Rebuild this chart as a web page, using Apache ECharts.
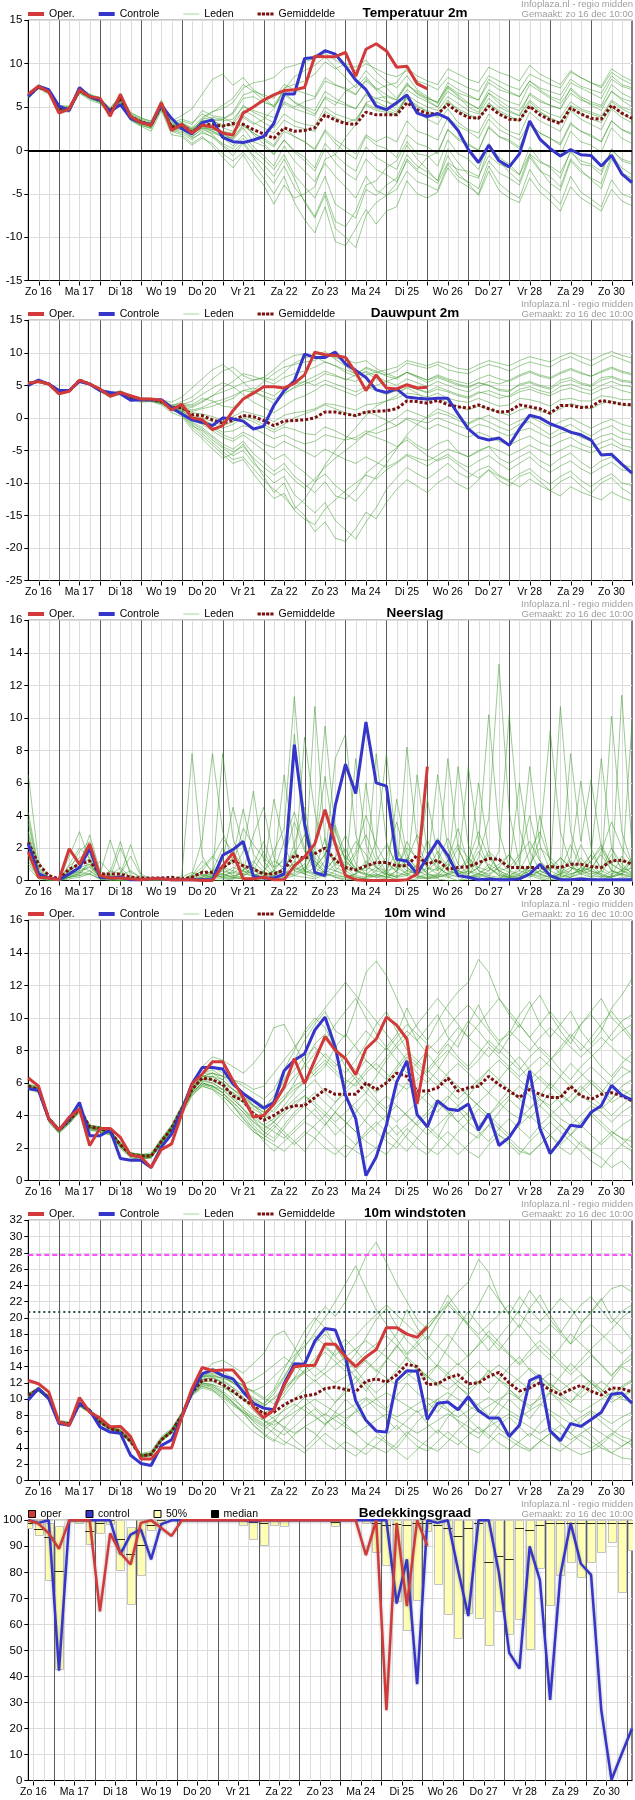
<!DOCTYPE html>
<html><head><meta charset="utf-8">
<script src="https://cdn.jsdelivr.net/npm/echarts@6/dist/echarts.min.js"></script>
<style>html,body{margin:0;padding:0;background:#fff}#c{width:635px;height:1800px}</style>
</head><body><div id="c"></div>
<script>
// ---------- axis / category data ----------
const dayLabels = ['Zo 16','Ma 17','Di 18','Wo 19','Do 20','Vr 21','Za 22','Zo 23','Ma 24','Di 25','Wo 26','Do 27','Vr 28','Za 29','Zo 30'];
const hours = [6,12,18,24,30,36,42,48,54,60,66,72,78,84,90,96,102,108,114,120,126,132,138,144,150,156,162,168,174,180,186,192,198,204,210,216,222,228,234,240,246,252,258,264,270,276,282,288,294,300,306,312,318,324,330,336,342,348,354,360];
const cloudHours = [9,15,21,27,33,39,45,51,57,63,69,75,81,87,93,99,105,111,117,123,129,135,141,147,153,159,165,171,177,183,189,195,201,207,213,219,225,231,237,243,249,255,261,267,273,279,285,291,297,303,309,315,321,327,333,339,345,351,357,363];

// ---------- Temperatuur 2m ----------
const tempOper = [6.5,7.4,6.75, 4.3,4.8,7.0,6.2, 6.0,3.95,6.45,3.9, 3.2,2.9,5.5,2.3, 3.0,2.0,2.9,2.7, 2.0,1.75,4.3,5.0, 5.8,6.4,6.9,7.0, 7.25,10.85,10.8,10.8, 11.3,8.55,11.66,12.3, 11.47,9.6,9.7,7.7, 7.1];
const tempCtrl = [6.2,7.4,7.0, 5.1,4.6,7.25,6.2, 5.8,4.45,5.3,3.7, 3.2,3.0,5.2,3.7, 2.5,1.9,3.2,3.5, 1.5,1.0,0.9,1.2, 1.6,3.1,6.5,6.5, 10.6,10.7,11.5,11.1, 9.7,8.1,7.0,5.1, 4.7,5.5,6.4,4.3, 3.9,4.25,3.7,2.3, 0.1,-1.4,0.6,-1.2, -1.9,-0.4,3.4,1.3, 0.2,-0.65,0.1,-0.5, -0.6,-1.8,-0.55,-2.7, -3.7];
const tempMean = [6.3,7.3,6.8, 4.8,4.8,6.9,6.2, 5.8,4.5,6.0,3.9, 3.3,2.9,5.2,2.7, 2.9,2.1,2.9,3.0, 2.8,3.1,3.0,2.4, 1.9,1.4,2.6,2.2, 2.3,2.6,4.1,3.5, 3.1,3.0,4.4,4.1, 4.1,4.1,5.5,4.7, 4.25,4.2,5.3,4.4, 3.8,3.7,5.1,4.2, 3.6,3.5,5.1,4.1, 3.5,3.1,4.9,4.2, 3.7,3.6,5.2,4.3, 3.7];
const tempLeden = [
 [6.4,7.5,6.9, 4.6,4.9,7.1,6.3, 6.1,4.2,6.6,4.0, 3.4,3.1,5.6,2.6, 3.2,2.6,3.8,4.5, 4.8,5.5,7.2,7.8, 8.0,8.4,9.5,9.8, 10.2,10.6,11.2,10.4, 9.8,9.2,10.0,9.4, 8.8,8.5,9.2,8.0, 7.6,7.0,8.4,7.8, 7.2,6.8,8.6,8.0, 7.4,7.0,8.8,8.2, 7.6,7.2,9.0,8.4, 7.8,7.4,9.4,8.6, 8.0],
 [6.0,7.1,6.5, 4.4,4.5,6.6,5.8, 5.4,4.0,5.6,3.4, 2.8,2.2,4.6,1.8, 1.6,0.6,1.4,0.8, -0.4,-1.2,-0.2,-1.6, -3.2,-5.0,-3.0,-6.0, -8.0,-9.5,-6.5,-10.5, -11.0,-9.0,-6.8,-8.5, -7.0,-6.5,-3.5,-5.0, -5.5,-4.8,-2.0,-3.5, -4.2,-5.0,-1.8,-3.8, -4.8,-5.5,-2.2,-4.0, -5.0,-6.2,-3.0,-4.8, -5.6,-6.5,-3.4,-5.0, -5.5],
 [6.2,7.2,6.6, 4.9,5.0,6.8,6.0, 5.6,4.3,5.8,3.6, 3.0,2.6,5.0,2.4, 2.2,1.4,2.0,1.6, 0.8,0.2,1.4,0.0, -1.0,-2.2,-0.5,-2.8, -4.2,-5.5,-3.0,-6.2, -7.0,-7.8,-4.5,-5.2, -4.0,-3.2,-0.5,-1.8, -2.5,-3.5,0.2,-1.4, -2.8,-3.2,0.4,-1.2, -2.5,-3.6,-0.5,-2.2, -3.8,-4.6,-1.2,-2.5, -3.2,-3.8,-0.6,-2.0, -2.8],
 [6.3,7.3,6.8, 5.0,4.7,6.9,6.1, 5.7,4.6,6.1,4.1, 3.5,3.0,5.0,2.9, 3.0,2.5,3.4,3.3, 3.0,2.8,4.0,3.2, 2.6,2.0,3.5,2.8, 2.5,2.2,4.5,3.8, 3.2,3.6,5.2,4.6, 4.4,4.0,6.2,5.0, 4.6,4.0,5.8,4.6, 4.0,3.6,5.5,4.4, 3.8,3.4,5.6,4.5, 3.6,3.2,5.2,4.6, 4.2,3.8,5.6,4.8, 4.2],
 [6.5,7.6,7.0, 5.2,5.1,7.3,6.4, 5.9,4.9,6.3,4.4, 3.7,3.4,5.8,3.4, 4.0,4.8,6.5,8.2, 8.8,7.5,8.4,7.0, 6.2,5.0,6.8,5.5, 4.8,4.2,6.0,5.2, 6.8,7.5,9.2,8.0, 7.2,6.0,7.8,6.5, 5.8,5.0,7.2,6.4, 5.5,4.8,7.0,6.2, 5.6,5.2,7.6,6.8, 6.0,5.4,7.0,6.0, 5.2,4.6,6.8,5.8, 5.0],
 [6.1,7.2,6.7, 4.6,4.4,6.7,6.2, 5.8,4.1,5.9,3.8, 3.1,2.7,4.8,2.2, 1.8,0.8,1.6,0.5, -0.8,-2.0,-0.5,-2.5, -4.0,-6.2,-4.0,-5.5, -5.0,-4.2,-1.0,-0.5, 1.5,3.0,5.5,6.0, 6.2,5.8,7.5,6.8, 6.0,5.5,7.8,7.0, 6.4,5.8,8.2,7.4, 6.8,6.2,8.0,7.0, 6.2,5.8,7.8,7.2, 6.6,6.0,8.2,7.4, 7.0],
 [6.3,7.4,6.8, 4.7,4.8,6.8,6.3, 5.7,4.4,6.0,3.8, 3.2,2.8,5.4,2.6, 2.6,1.8,2.8,2.4, 2.0,1.2,2.6,1.0, 0.5,-0.5,1.2,0.0, -0.8,-2.0,0.8,-0.5, -1.6,-2.4,0.4,-0.8, -1.5,-2.2,0.6,-1.0, -2.2,-3.5,-0.6,-2.6, -3.8,-5.2,-2.4,-4.6, -5.5,-6.0,-3.2,-4.8, -5.8,-7.0,-4.2,-5.5, -6.2,-7.0,-4.5,-5.8, -6.4],
 [6.4,7.3,6.9, 4.9,4.9,7.0,6.3, 5.9,4.5,6.2,4.0, 3.4,3.0,5.3,2.8, 2.8,2.2,3.6,3.8, 3.6,4.2,6.0,6.2, 5.5,5.2,7.0,8.5, 9.2,9.8,10.8,9.6, 8.4,7.2,8.5,7.0, 5.8,4.6,6.2,4.4, 3.6,3.0,4.8,3.2, 2.4,2.0,4.2,3.0, 2.2,1.8,4.4,3.4, 2.8,2.2,4.6,3.6, 3.0,2.4,4.8,3.8, 3.2],
 [6.2,7.3,6.7, 4.8,4.6,6.9,6.0, 5.6,4.4,5.9,4.0, 3.3,3.1,5.1,3.0, 3.2,2.4,2.8,2.2, 1.5,0.5,1.8,0.4, -0.6,-1.8,0.5,-1.2, -2.4,-3.6,-1.5,-3.0, -4.2,-5.5,-3.0,-4.6, -5.2,-3.8,-1.0,-2.2, -0.8,-0.2,2.4,1.2, 0.6,0.0,2.8,1.6, 1.0,0.2,3.0,1.4, 0.4,-0.6,2.2,1.0, 0.6,-0.2,2.6,1.4, 0.8],
 [6.3,7.2,6.8, 4.9,4.8,6.8,6.1, 5.8,4.7,6.0,4.2, 3.6,3.2,5.2,3.0, 3.4,3.0,4.6,4.0, 3.8,3.2,5.2,4.4, 3.8,3.2,5.6,5.0, 5.6,6.0,8.0,7.5, 7.2,6.5,8.0,7.0, 7.5,7.8,9.5,8.6, 8.0,7.6,9.4,8.8, 8.2,7.8,9.6,9.0, 8.6,8.0,9.8,8.8, 8.2,7.6,9.2,8.4, 7.8,7.2,9.0,8.2, 7.6],
 [6.1,7.3,6.6, 4.5,4.7,6.8,6.0, 5.5,4.3,5.8,3.6, 2.9,2.5,4.9,2.3, 2.0,1.2,2.2,1.5, 0.5,-0.6,0.8,-0.8, -2.4,-3.8,-1.8,-4.2, -5.8,-7.6,-4.8,-8.2, -8.8,-7.0,-4.0,-3.5, -2.0,-1.2,1.0,-0.4, -0.6,-1.8,1.2,-0.4, -1.0,-2.2,0.8,-0.8, -1.6,-2.8,0.4,-1.2, -2.0,-3.2,0.0,-1.6, -1.8,-2.8,0.2,-1.2, -1.6],
 [6.4,7.4,6.7, 4.6,4.8,6.7,6.4, 6.0,4.6,6.2,3.8, 3.3,2.8,4.9,2.5, 2.5,1.6,2.4,2.0, 1.6,1.4,2.8,2.0, 1.2,0.4,2.2,1.6, 1.0,0.2,2.4,1.2, 0.4,-0.4,1.8,1.0, 1.6,1.0,3.4,2.2, 1.8,1.2,3.8,2.8, 2.2,1.4,3.6,2.4, 1.8,1.2,3.2,2.0, 1.4,0.6,3.0,2.2, 1.6,1.0,3.4,2.4, 1.8],
 [6.2,7.4,7.0, 5.1,5.0,7.2,6.5, 6.1,4.8,6.4,4.3, 3.8,3.3,5.6,3.2, 3.6,3.2,4.2,3.6, 2.6,2.2,3.8,3.0, 3.6,4.8,7.2,7.6, 8.0,8.8,10.2,9.4, 10.0,9.6,10.4,9.0, 8.0,7.2,8.6,7.0, 6.2,5.4,7.4,6.2, 5.0,4.4,6.6,5.4, 4.6,4.0,6.6,5.8, 5.2,4.8,7.2,6.2, 5.6,5.2,7.6,6.6, 6.0],
 [6.3,7.2,6.7, 4.7,4.6,6.6,6.0, 5.6,4.2,5.7,3.5, 2.9,2.6,4.8,2.5, 2.4,1.5,2.6,1.8, 0.6,-0.2,1.0,-0.6, -1.6,-3.0,-1.0,-3.2, -6.0,-7.8,-5.2,-9.0, -10.0,-11.2,-7.5,-6.0, -5.2,-4.5,-2.4,-3.6, -4.0,-4.6,-1.6,-3.0, -3.6,-4.4,-1.2,-2.6, -3.2,-4.0,-0.8,-2.4, -3.0,-4.2,-1.0,-2.2, -3.4,-4.4,-1.0,-2.6, -3.2],
 [6.3,7.4,6.9, 4.9,4.9,7.0,6.2, 5.8,4.6,6.1,4.0, 3.4,3.0,5.3,2.8, 3.1,2.4,3.4,3.6, 3.4,3.6,5.0,4.6, 4.2,3.8,5.4,4.8, 4.4,4.0,6.2,5.6, 5.2,4.8,6.6,6.0, 5.6,5.2,7.0,6.2, 5.6,5.0,6.8,6.0, 5.4,4.8,6.6,5.8, 5.0,4.6,6.4,5.6, 5.2,4.8,6.6,5.8, 5.4,5.0,6.8,6.0, 5.6],
 [6.2,7.3,6.7, 4.8,4.7,6.8,6.1, 5.7,4.4,5.9,3.8, 3.2,2.8,5.0,2.5, 2.6,1.9,2.6,2.2, 1.8,1.4,3.0,2.0, 1.4,0.6,2.6,1.6, 1.0,0.0,2.2,0.8, -0.2,-1.0,1.6,0.6, 0.2,-0.8,1.8,0.8, 0.4,-0.4,2.4,1.4, 0.8,0.0,2.6,1.6, 1.2,0.4,3.0,2.0, 1.4,0.8,3.2,2.2, 1.8,1.0,3.4,2.4, 2.0],
 [6.4,7.4,6.8, 4.8,4.9,7.0,6.3, 5.9,4.6,6.0,4.0, 3.4,3.0,5.4,2.9, 3.0,2.3,3.2,3.4, 3.6,4.4,6.4,6.8, 6.4,6.0,7.6,7.0, 6.6,6.2,8.4,7.6, 7.0,6.4,8.2,7.2, 6.4,5.8,7.6,6.6, 6.0,5.6,7.4,6.6, 6.2,5.8,7.8,7.0, 6.6,6.2,8.0,7.2, 6.8,6.4,8.2,7.4, 7.0,6.6,8.6,7.6, 7.2],
 [6.3,7.3,6.8, 4.7,4.8,6.9,6.2, 5.8,4.5,6.0,3.9, 3.3,2.9,5.1,2.6, 2.8,2.0,2.6,2.4, 2.2,2.0,3.2,1.8, 0.8,-0.4,1.2,-0.2, -1.2,-2.4,0.2,-1.4, -2.6,-3.4,-1.0,-2.2, -2.8,-3.6,-1.2,-2.4, -3.0,-3.8,-1.4,-2.2, -2.4,-3.0,-0.6,-1.6, -2.0,-2.8,-0.4,-1.4, -1.8,-2.6,-0.2,-1.2, -1.6,-2.4,0.0,-1.0, -1.4],
 [6.2,7.4,6.8, 4.8,4.8,6.9,6.2, 5.8,4.5,6.0,3.9, 3.3,2.9,5.2,2.7, 2.9,2.2,3.0,3.0, 2.8,3.0,4.6,4.0, 3.2,2.6,4.2,3.4, 3.0,2.8,5.0,4.2, 3.8,3.4,5.4,4.8, 4.6,4.2,6.4,5.6, 5.0,4.6,6.2,5.4, 4.6,4.2,6.0,5.0, 4.4,4.0,5.8,4.8, 4.2,3.8,5.6,4.8, 4.4,4.0,5.8,5.0, 4.6],
 [6.4,7.3,6.8, 4.9,4.8,6.9,6.2, 5.8,4.5,6.0,3.9, 3.3,2.9,5.2,2.7, 2.8,2.2,3.6,4.4, 5.2,6.0,7.6,6.8, 5.8,5.0,6.4,5.6, 5.0,4.6,6.8,6.0, 5.4,4.8,6.4,5.6, 5.0,4.4,6.0,5.2, 4.4,3.8,5.6,4.8, 4.2,3.6,5.4,4.6, 4.0,3.4,5.2,4.4, 3.8,3.2,5.0,4.2, 3.6,3.2,5.0,4.2, 3.6]
];

// ---------- Dauwpunt 2m ----------
const dewOper = [5.3,5.6,5.2, 3.7,4.1,5.8,5.2, 4.45,3.3,3.9,3.4, 2.9,2.9,2.7,1.2, 2.1,0.0,-0.3,-1.8, -1.2,1.1,2.9,3.8, 4.8,4.8,4.6,5.3, 6.6,10.1,9.7,9.6, 9.3,7.0,4.2,6.6, 4.6,4.45,5.1,4.6, 4.7];
const dewCtrl = [5.0,5.8,5.2, 4.2,4.2,5.6,5.2, 4.2,3.9,3.7,2.7, 2.8,2.8,2.8,1.6, 0.6,-0.3,-0.7,-1.2, 0.0,-0.15,-0.5,-1.7, -1.3,1.9,4.2,5.7, 9.8,9.3,9.3,10.1, 8.3,7.3,6.2,4.3, 3.9,4.45,3.2,3.0, 2.9,3.0,3.0,0.6, -1.7,-3.0,-3.4,-3.1, -4.2,-1.7,0.4,0.0, -0.9,-1.5,-2.2,-2.6, -3.4,-5.7,-5.6,-7.1, -8.5];
const dewMean = [5.3,5.6,5.2, 4.0,4.1,5.8,5.2, 4.3,3.5,3.9,3.1, 2.8,2.8,2.5,1.6, 1.6,0.5,0.35,-0.3, -0.8,-0.4,0.35,0.2, -0.4,-1.2,-0.5,-0.4, -0.3,0.0,0.9,0.9, 0.6,0.35,0.9,1.0, 1.1,1.4,2.6,2.5, 2.25,2.7,2.0,1.7, 1.5,2.0,1.4,0.9, 1.0,2.0,1.7,1.4, 0.7,1.9,1.9,1.6, 1.7,2.7,2.4,2.1, 2.0];
const dewLeden = [
 [5.2,5.7,5.3, 4.1,4.0,5.9,5.3, 4.5,3.6,4.0,3.2, 2.9,2.7,2.6,1.8, 2.5,3.2,4.5,6.0, 7.2,7.8,6.5,5.8, 6.2,7.4,8.8,9.6, 9.8,9.4,8.6,8.0, 7.4,6.8,7.6,7.0, 6.6,7.2,8.4,8.0, 7.6,8.2,7.4,7.0, 6.8,7.6,8.2,7.8, 7.2,8.0,8.6,8.2, 7.8,8.8,9.4,8.6, 8.0,8.8,9.6,9.0, 8.4],
 [5.3,5.5,5.1, 3.8,4.0,5.6,5.0, 4.0,3.2,3.6,2.8, 2.4,2.5,2.0,0.8, 0.2,-1.8,-3.2,-4.8, -6.2,-5.5,-4.0,-6.5, -9.0,-11.5,-10.0,-13.5, -15.0,-17.5,-16.0,-18.5, -19.0,-17.0,-14.5,-15.5, -13.0,-11.0,-9.5,-10.5, -11.5,-10.0,-9.0,-10.2, -11.0,-9.5,-8.0,-9.6, -10.5,-9.0,-8.4,-9.8, -11.2,-9.8,-9.0,-10.4, -11.6,-10.0,-9.2,-10.8, -11.8],
 [5.4,5.6,5.2, 4.1,4.2,5.8,5.1, 4.2,3.4,3.8,3.0, 2.6,2.6,2.3,1.2, 0.8,-0.6,-1.5,-2.8, -4.0,-4.8,-3.6,-5.5, -6.8,-8.2,-7.0,-9.0, -10.2,-11.5,-9.8,-12.0, -12.5,-11.0,-8.5,-7.2, -5.8,-4.6,-3.0,-4.2, -5.0,-4.0,-3.4,-5.2, -6.0,-5.0,-4.4,-6.2, -7.0,-6.0,-5.2,-6.6, -7.4,-6.2,-5.4,-6.8, -7.8,-6.6,-6.0,-7.2, -7.6],
 [5.3,5.6,5.3, 4.0,4.1,5.7,5.3, 4.3,3.5,4.0,3.2, 2.9,2.9,2.6,1.7, 1.5,0.8,0.6,0.2, -0.4,0.2,1.0,0.6, 0.2,-0.6,0.4,0.8, 1.0,1.4,2.2,2.0, 1.6,1.2,2.0,2.2, 2.6,3.0,3.8,3.6, 3.2,3.8,3.0,2.6, 2.4,3.0,2.4,1.8, 2.0,3.0,2.8,2.4, 1.8,2.8,3.0,2.6, 2.6,3.4,3.2,2.8, 2.8],
 [5.2,5.6,5.2, 4.2,4.3,5.9,5.3, 4.5,3.7,4.2,3.4, 3.1,3.0,2.8,2.4, 3.2,4.6,6.0,7.4, 8.2,7.0,5.5,4.0, 3.2,2.2,3.6,4.8, 5.6,6.4,7.2,6.6, 5.8,6.6,7.8,7.2, 6.4,6.0,7.0,6.2, 5.4,6.2,5.6,5.0, 4.6,5.4,5.0,4.2, 4.0,5.2,5.6,5.0, 4.6,5.8,6.2,5.4, 5.0,6.2,6.4,5.8, 5.6],
 [5.3,5.5,5.2, 3.9,4.0,5.7,5.2, 4.4,3.4,3.8,3.0, 2.7,2.6,2.2,1.2, 0.6,-1.0,-2.4,-3.8, -5.2,-6.4,-6.0,-7.8, -9.6,-11.0,-12.2,-14.0, -12.5,-10.0,-7.2,-5.0, -3.2,-1.5,0.4,1.8, 2.6,3.4,4.8,4.4, 4.0,4.8,4.2,3.6, 3.2,4.0,3.6,3.0, 3.4,4.4,4.8,4.2, 3.8,4.8,5.2,4.6, 4.2,5.0,5.6,5.0, 4.8],
 [5.3,5.6,5.2, 4.0,4.1,5.8,5.2, 4.3,3.5,3.9,3.1, 2.8,2.8,2.5,1.6, 1.4,0.2,-0.2,-1.0, -1.6,-1.0,0.0,-0.6, -1.4,-2.2,-1.4,-1.8, -2.4,-2.6,-1.4,-2.0, -2.8,-3.4,-2.4,-3.0, -3.6,-4.4,-3.4,-4.6, -5.8,-6.6,-6.0,-7.2, -8.4,-9.2,-8.0,-9.0, -9.8,-10.6,-9.4,-10.4, -11.2,-12.0,-10.6,-11.4, -12.0,-12.6,-11.4,-12.2, -12.8],
 [5.4,5.7,5.3, 4.1,4.2,5.9,5.3, 4.4,3.6,4.0,3.2, 2.9,2.9,2.6,1.9, 2.0,1.8,2.6,3.4, 4.0,4.6,5.4,5.8, 6.2,5.8,7.0,8.4, 9.2,9.6,10.2,9.0, 8.0,6.6,7.0,6.0, 4.8,4.0,4.6,3.8, 2.6,3.0,2.4,1.8, 1.2,1.8,1.4,0.8, 0.4,1.2,1.6,1.0, 0.6,1.4,2.2,1.8, 1.4,2.2,2.6,2.0, 1.8],
 [5.2,5.5,5.1, 4.0,4.0,5.7,5.1, 4.2,3.5,3.8,3.1, 2.8,2.8,2.4,1.4, 1.0,-0.4,-1.0,-2.0, -3.0,-3.6,-2.6,-3.8, -5.0,-6.4,-5.6,-7.2, -8.4,-9.8,-8.6,-10.4, -11.6,-12.8,-11.0,-9.0, -7.0,-4.8,-2.6,-1.0, 0.2,1.4,0.8,0.0, -0.8,0.0,-0.6,-1.4, -2.0,-1.0,-0.6,-1.6, -2.6,-1.6,-1.0,-2.0, -2.8,-1.8,-1.2,-2.2, -2.6],
 [5.3,5.6,5.2, 4.1,4.1,5.8,5.2, 4.4,3.6,4.0,3.2, 2.9,2.8,2.6,1.7, 1.8,1.2,1.6,2.4, 2.8,3.4,4.2,4.0, 3.4,2.8,3.8,4.6, 5.2,5.8,6.8,6.4, 6.0,5.6,6.6,7.0, 7.4,7.8,8.8,8.4, 8.0,8.6,8.2,7.6, 7.4,8.2,8.8,8.4, 8.0,8.8,9.4,9.0, 8.6,9.4,10.0,9.4, 8.8,9.6,10.2,9.6, 9.2],
 [5.2,5.5,5.1, 3.9,4.0,5.7,5.1, 4.1,3.3,3.7,2.9, 2.6,2.6,2.2,1.3, 0.4,-1.4,-2.8,-4.2, -5.6,-7.0,-6.4,-8.6, -10.6,-12.4,-11.6,-14.2, -15.6,-16.4,-14.0,-12.6, -11.2,-10.0,-8.8,-9.4, -8.0,-7.0,-5.8,-6.6, -7.4,-6.4,-5.6,-6.8, -7.6,-6.6,-5.8,-7.0, -8.0,-7.0,-6.0,-7.4, -8.4,-7.4,-6.6,-7.8, -8.6,-7.6,-6.8,-8.0, -8.2],
 [5.3,5.6,5.2, 4.0,4.1,5.8,5.2, 4.3,3.5,3.9,3.1, 2.8,2.7,2.4,1.5, 1.2,0.0,-0.6,-1.4, -2.2,-2.0,-1.2,-1.6, -2.4,-3.2,-2.6,-3.4, -4.0,-3.6,-2.6,-3.0, -3.4,-3.0,-2.0,-2.4, -1.8,-1.2,0.0,-0.4, -0.8,0.0,-0.6,-1.2, -1.8,-1.0,-1.4,-2.2, -2.8,-2.0,-1.6,-2.4, -3.2,-2.4,-2.0,-3.0, -3.6,-2.8,-2.4,-3.2, -3.4],
 [5.4,5.6,5.3, 4.2,4.3,5.9,5.4, 4.5,3.7,4.1,3.3, 3.0,3.0,2.8,2.0, 2.2,2.0,3.0,2.6, 1.8,1.6,3.0,4.2, 5.6,6.8,7.8,8.2, 8.6,8.8,9.8,9.2, 9.0,8.4,8.8,7.6, 6.8,6.2,7.0,6.4, 5.8,6.4,5.8,5.2, 4.8,5.4,5.0,4.4, 4.2,5.0,5.4,4.8, 4.4,5.4,5.8,5.2, 4.8,5.8,6.2,5.6, 5.4],
 [5.3,5.5,5.1, 4.0,4.0,5.7,5.1, 4.2,3.4,3.7,3.0, 2.7,2.7,2.3,1.3, 0.6,-1.2,-2.0,-3.4, -4.6,-5.8,-5.0,-7.0, -8.4,-10.0,-9.0,-11.8, -13.2,-14.6,-13.0,-15.8, -17.2,-18.6,-16.0,-13.8, -11.0,-9.2,-7.6,-8.6, -9.4,-8.2,-7.0,-8.4, -9.2,-8.0,-7.4,-8.8, -9.6,-8.6,-7.8,-9.2, -10.2,-9.0,-8.2,-9.6, -10.6,-9.4,-8.6,-10.0, -10.4],
 [5.3,5.6,5.2, 4.0,4.1,5.8,5.2, 4.3,3.5,3.9,3.1, 2.8,2.8,2.5,1.6, 1.6,1.0,1.4,1.8, 2.4,3.0,4.2,4.6, 4.0,3.4,4.6,5.2, 5.6,5.0,5.8,5.2, 4.6,4.0,4.8,4.2, 3.6,4.2,5.0,4.4, 3.8,4.4,4.0,3.4, 3.0,3.8,4.2,3.6, 3.2,4.0,4.4,3.8, 3.4,4.2,4.6,4.0, 3.6,4.4,4.8,4.2, 3.8],
 [5.3,5.6,5.2, 4.0,4.1,5.8,5.2, 4.3,3.5,3.9,3.1, 2.8,2.8,2.5,1.6, 1.2,-0.2,-0.8,-1.6, -2.6,-3.2,-2.2,-3.0, -4.0,-4.6,-3.6,-4.4, -5.2,-6.0,-4.8,-5.6, -6.4,-7.0,-6.0,-6.8, -7.6,-6.8,-5.6,-6.2, -6.6,-5.8,-4.8,-5.4, -6.0,-5.2,-4.4,-5.0, -5.8,-5.0,-4.2,-5.0, -5.8,-5.0,-4.2,-4.8, -5.4,-4.6,-4.0,-4.8, -5.2],
 [5.3,5.6,5.2, 4.0,4.1,5.8,5.2, 4.3,3.5,3.9,3.1, 2.8,2.8,2.5,1.6, 1.8,1.6,2.4,3.4, 4.6,5.6,6.8,6.4, 5.8,5.2,6.2,6.8, 7.2,7.8,8.6,8.0, 7.0,6.4,7.2,6.4, 5.6,5.0,6.0,5.4, 4.8,5.6,5.0,4.4, 4.0,4.8,5.6,5.2, 5.8,6.6,7.2,6.6, 6.2,7.0,7.6,7.0, 6.4,7.2,7.8,7.2, 6.8],
 [5.3,5.6,5.2, 4.0,4.1,5.8,5.2, 4.3,3.5,3.9,3.1, 2.8,2.8,2.5,1.6, 1.4,0.4,0.0,-0.6, -1.2,-0.6,0.4,-0.2, -1.0,-1.8,-1.0,0.0, 0.6,1.2,2.0,1.4, 0.8,0.2,1.0,0.4, -0.4,-1.2,-0.2,-1.0, -1.8,-1.0,-1.6,-2.4, -3.0,-2.2,-2.8,-3.6, -4.2,-3.4,-2.8,-3.8, -4.4,-3.6,-3.0,-4.0, -4.6,-3.8,-3.2,-4.2, -4.6],
 [5.3,5.6,5.2, 4.0,4.1,5.8,5.2, 4.3,3.5,3.9,3.1, 2.8,2.8,2.5,1.6, 1.0,-0.8,-1.8,-3.0, -4.4,-5.2,-4.4,-6.2, -7.6,-8.8,-7.8,-9.6, -10.8,-9.4,-7.6,-6.2, -5.0,-3.8,-2.4,-1.6, -0.8,0.0,1.2,0.6, 0.0,0.8,0.4,-0.4, -1.0,-0.2,0.4,-0.4, -1.2,-0.4,0.2,-0.6, -1.4,-0.6,0.0,-0.8, -1.6,-0.8,-0.2,-1.0, -1.4],
 [5.3,5.6,5.2, 4.0,4.1,5.8,5.2, 4.3,3.5,3.9,3.1, 2.8,2.8,2.5,1.6, 2.0,2.6,3.6,4.6, 5.4,4.8,3.6,2.4, 1.6,0.8,1.8,2.8, 3.4,4.2,5.2,4.6, 4.0,3.4,4.4,5.0, 5.6,6.2,7.0,6.4, 5.8,6.6,6.0,5.6, 5.2,6.0,6.6,6.0, 5.6,6.4,7.0,6.4, 6.0,6.8,7.4,6.8, 6.4,7.0,7.6,7.0, 6.6]
];

// ---------- Neerslag ----------
const precOper = [1.75,0.2,0.15, 0.05,1.95,1.0,2.25, 0.3,0.15,0.15,0.1, 0.05,0.1,0.1,0.05, 0.05,0.05,0,0, 0.9,1.7,0.1,0.1, 0.2,0.05,0.05,0.9, 1.45,2.25,4.35,2.25, 0.3,0.05,0,0, 0,0,0.05,0.4, 7.0];
const precCtrl = [2.25,0.4,0.15, 0.05,0.4,0.8,1.95, 0.2,0.15,0.2,0.05, 0.05,0.1,0.1,0.05, 0.05,0.05,0.05,0.05, 1.55,1.9,2.4,0.25, 0.15,0.15,0.4,8.35, 3.5,0.5,0.3,4.6, 7.15,5.35,9.75,6.0, 5.8,1.3,1.2,0.4, 1.45,2.45,1.55,0.3, 0.2,0.05,0.1,0.05, 0.05,0.1,0.4,1.0, 0.3,0.05,0.05,0.1, 0.05,0.05,0.05,0.05, 0.05];
const precMean = [2.35,1.0,0.3, 0.1,0.7,1.0,1.2, 0.4,0.4,0.4,0.2, 0.15,0.15,0.15,0.2, 0.1,0.2,0.5,0.5, 0.8,1.2,0.9,0.7, 0.4,0.4,0.65,1.55, 1.35,1.65,2.0,1.25, 0.8,0.65,0.9,1.1, 1.1,0.9,0.9,1.55, 1.0,1.25,0.7,0.8, 0.85,1.1,1.35,1.3, 0.8,0.8,0.8,0.8, 0.85,0.8,1.0,1.0, 0.85,0.8,1.2,1.25, 1.0];
const precLeden = [
 [1.8,0.3,0.1, 0,0.9,1.4,1.6, 0.3,0.2,0.3,0.1, 0,0,0,0, 0,0.4,2.5,7.8, 3.0,1.2,0.6,0.2, 0.1,0.3,0.6,2.2, 4.5,1.0,0.5,0.2, 0,0.4,1.2,0.8, 0.3,0,0,0.6, 2.5,1.0,0.2,0, 0.3,1.4,3.8,13.3, 4.2,1.0,0.3,0.1, 0,0.4,1.2,0.6, 0.2,0,0.3,1.5, 0.8],
 [6.5,1.2,0.2, 0,0.5,0.8,1.0, 0.2,0.1,0.2,0, 0,0,0.1,0.1, 0.2,0.5,0.3,0.4, 7.8,2.6,0.8,0.3, 0.5,1.8,3.2,11.3, 3.6,1.2,0.6,1.4, 2.8,1.0,0.4,0.2, 0.1,0.6,2.4,1.2, 0.4,0.2,0.8,2.0, 0.6,0.2,0,0.1, 0.5,1.4,4.0,1.2, 0.3,0.1,0.6,2.2, 1.0,0.4,0.2,11.4, 2.0],
 [3.0,0.6,0.2, 0,1.5,3.0,1.2, 0.4,2.5,0.6,0.2, 0.1,0,0,0, 0.3,7.8,1.5,0.4, 0.2,0.6,1.8,5.5, 1.2,0.4,0.8,1.0, 0.4,10.7,2.4,0.8, 0.5,1.6,2.8,1.2, 0.4,0.2,0.6,0.9, 0.6,1.8,0.8,0.3, 0.2,0.4,1.0,0.6, 0.3,0.2,0.8,2.6, 9.2,3.0,1.0,0.4, 0.2,0.6,2.0,1.0, 0.4],
 [2.2,0.4,0.1, 0,0.3,0.6,2.2, 0.2,0.1,0,0, 0,0,0,0, 0,0,0.2,0.6, 1.2,4.5,2.0,0.8, 0.4,5.0,2.2,0.6, 1.0,2.2,9.5,3.0, 1.2,0.6,0.8,2.4, 7.8,2.0,0.8,0.3, 0.1,0.3,1.2,3.2, 1.0,0.4,0.2,0.1, 0.2,0.8,7.0,2.2, 0.6,0.3,0.2,0.4, 1.6,7.5,2.0,0.6, 0.3],
 [4.2,0.8,0.2, 0,0.2,0.5,0.4, 1.2,0.5,2.4,0.3, 0.1,0,0,0, 0,0.3,0.8,1.5, 0.8,0.3,0.2,1.0, 2.4,0.8,6.5,2.0, 0.6,0.4,1.2,7.5, 9.0,2.8,1.0,0.4, 0.2,5.0,1.6,0.6, 0.3,0.2,0.4,0.8, 7.0,2.4,0.8,0.3, 0.2,0.1,0.4,1.0, 0.6,10.7,3.0,1.0, 0.5,0.2,0.2,0.4, 1.2],
 [1.2,0.2,0, 0,0.6,1.0,2.8, 0.6,0.2,0.1,0, 0,0,0,0, 0.1,0.2,0.4,0.2, 0.6,1.4,4.4,1.6, 0.8,0.3,0.2,0.5, 8.8,4.2,1.4,0.6, 0.3,7.5,2.2,0.8, 0.4,0.2,8.2,2.4, 0.8,6.5,2.0,0.6, 0.3,0.2,0.6,1.8, 10.2,3.2,1.0,0.4, 0.2,0.4,1.4,6.1, 2.0,0.6,10.1,3.0, 1.0],
 [2.8,0.5,0.1, 0,0.4,0.5,1.0, 0.2,0.3,0.1,0.1, 0,0.1,0,0, 0,0.1,0.2,0.3, 0.4,0.2,0.1,0.2, 0.3,0.6,0.4,9.0, 2.8,0.8,0.4,0.3, 0.2,0.4,6.0,1.6, 0.5,0.3,0.4,6.5, 1.8,0.6,7.5,2.0, 0.6,6.0,1.8,0.5, 0.2,0.3,0.6,0.8, 0.3,0.2,7.8,2.4, 6.2,2.0,0.6,0.3, 0.2],
 [1.5,0.3,0.1, 0,0.3,0.8,0.6, 0.2,0.6,0.4,2.2, 0.4,0.1,0,0, 0,0,0.1,0.2, 0.3,0.5,0.3,0.6, 1.8,0.6,0.4,0.8, 0.6,1.8,0.8,3.2, 1.2,0.6,0.4,0.3, 0.2,0.6,1.4,0.8, 5.0,1.6,0.6,0.4, 0.8,2.2,10.2,3.0, 0.8,6.0,1.8,0.6, 0.3,0.2,0.4,0.6, 0.8,1.6,0.6,0.4, 9.7],
 [3.5,0.6,0.1, 0,0.2,0.3,0.4, 0.1,0,0,0, 0,0,0,0, 0,0,0,0.2, 0.4,0.8,0.6,0.4, 0.2,0.1,0.2,0.4, 0.8,0.4,0.2,0.6, 0.4,0.2,0.1,7.8, 2.4,0.8,0.4,0.2, 0.1,0.2,0.4,7.0, 2.2,0.6,0.3,0.2, 0.1,0.2,0.6,4.0, 1.2,0.4,0.2,0.8, 0.6,0.3,0.2,0.6, 0.4],
 [2.0,0.4,0.1, 0,0.6,1.8,2.4, 0.3,0.2,2.0,0.5, 0.2,0,0,0, 0,0.2,0.6,0.4, 0.2,0.1,0.6,1.2, 0.5,0.3,0.8,1.8, 0.6,1.2,0.4,1.0, 2.0,0.6,0.3,0.2, 0.4,1.2,0.6,0.4, 0.8,0.4,0.3,0.6, 1.4,0.6,0.4,0.8, 0.5,0.3,0.2,0.6, 1.0,0.4,0.6,1.4, 0.6,0.4,1.6,0.8, 0.5],
 [0.8,0.1,0, 0,0.1,0.2,0.4, 0.1,0,0,0, 0,0,0,0, 0,0,0,0, 0,0.1,0.2,0.1, 0,0.1,0.1,0.3, 0.2,0.1,0.4,0.2, 0.1,0,0.2,0.4, 0.2,0.1,0,0.1, 0.2,0.1,0,0, 0.1,0.3,0.2,0.1, 0,0.2,0.4,0.2, 0.1,0,0.1,0.2, 0.1,0,0,0.2, 0.1],
 [2.6,0.4,0.1, 0,1.0,2.0,1.4, 0.3,0.2,0.4,1.5, 0.3,0,0,0, 0,0.3,1.2,0.6, 2.0,1.0,3.2,2.2, 1.4,0.8,1.2,0.6, 0.4,0.8,1.6,2.4, 1.4,0.8,0.6,1.2, 2.2,1.0,0.4,0.6, 1.2,2.6,1.2,0.6, 0.4,0.8,1.8,1.2, 0.6,0.4,1.0,2.0, 1.4,0.8,0.4,0.6, 1.2,2.2,1.0,0.6, 1.4],
 [1.0,0.2,0, 0,0.3,0.4,1.2, 0.2,0.1,0.1,0.2, 0.1,0,0,0, 0,0,0.1,0.3, 0.6,0.4,1.0,0.6, 0.3,0.6,1.4,3.6, 1.8,0.6,2.6,1.0, 0.8,1.8,4.0,2.2, 1.0,0.6,1.2,2.8, 1.6,0.8,0.4,0.6, 1.2,3.0,1.4,0.6, 0.8,1.6,2.4,1.2, 0.6,1.4,0.8,0.4, 0.6,1.8,3.6,2.0, 1.0],
 [1.6,0.3,0.1, 0,0.4,0.6,0.8, 0.2,0.1,0.3,0.6, 0.2,0,0,0, 0,0,0.1,0.2, 0.2,0.3,0.4,0.8, 0.4,0.2,0.3,1.2, 0.6,0.3,0.6,0.4, 0.2,0.4,0.8,0.6, 0.4,0.2,0.3,1.0, 0.4,0.3,0.2,0.4, 0.6,0.4,0.3,0.8, 1.6,0.6,0.4,0.3, 0.2,0.4,0.8,0.6, 0.4,0.6,0.3,0.4, 0.8],
 [2.4,0.5,0.1, 0,0.5,1.2,1.8, 0.4,0.3,0.8,0.2, 0.1,0,0,0, 0,0.2,0.6,1.4, 2.6,1.8,0.8,0.4, 0.2,0.6,2.4,4.2, 2.0,0.8,1.6,3.4, 1.6,0.6,0.4,0.8, 1.4,3.6,1.2,0.4, 0.6,1.2,2.6,1.0, 0.4,0.8,1.6,0.6, 0.3,0.6,1.8,3.0, 1.2,0.6,0.3,0.8, 1.6,0.8,0.4,0.6, 1.2],
 [3.8,0.7,0.2, 0,0.2,0.4,0.9, 0.2,0.1,0.1,0, 0,0,0,0, 0,0.1,0.3,0.6, 0.4,0.2,0.6,2.8, 4.5,1.4,0.6,0.3, 0.6,2.0,6.4,2.2, 0.8,0.3,0.2,0.6, 1.2,0.5,0.3,0.2, 0.4,0.8,0.4,0.2, 0.6,1.8,0.8,0.3, 0.2,0.4,0.8,0.4, 0.2,0.6,2.2,0.8, 0.3,0.2,0.6,0.4, 0.2],
 [1.4,0.2,0.1, 0,0.2,0.3,0.6, 0.1,0.1,0,0, 0,0,0,0, 0,0,0,0.1, 0.1,0.2,0.1,0.1, 0.2,0.1,0.3,0.8, 0.4,0.2,0.6,1.4, 0.6,0.2,0.1,0.3, 0.6,1.8,0.8,0.3, 0.2,0.4,1.0,0.5, 0.2,0.4,0.8,0.4, 0.2,0.1,0.3,0.6, 0.3,0.1,0.2,0.5, 0.8,0.3,0.2,0.4, 0.3],
 [2.1,0.4,0.1, 0,0.7,1.1,1.3, 0.3,0.2,0.2,0.1, 0,0,0,0, 0,0,0.2,0.4, 0.8,0.6,0.4,0.3, 0.6,1.2,0.8,1.6, 2.8,1.4,0.8,0.6, 1.2,2.4,1.6,0.8, 0.6,0.8,2.0,1.4, 0.8,0.6,1.2,2.2, 1.4,0.8,0.6,1.0, 1.6,0.8,0.6,0.4, 0.8,1.4,0.8,0.6, 1.2,2.0,1.0,0.6, 0.8]
];

// ---------- 10m wind ----------
const windOper = [6.3,5.8,3.8, 3.1,3.9,4.4,2.15, 3.2,3.2,2.65,1.55, 1.45,0.8,1.9,2.25, 4.1,5.95,6.55,7.3, 7.3,6.15,5.1,3.9, 4.0,4.7,5.75,7.5, 5.95,7.4,8.85,8.0, 7.5,6.5,8.1,8.7, 10.05,9.55,8.7,4.7, 8.3];
const windCtrl = [5.65,5.55,3.8, 3.1,3.8,4.8,2.75, 2.75,3.1,1.35,1.25, 1.25,0.8,2.05,2.85, 4.3,5.95,6.95,6.95, 6.85,5.95,5.35,4.9, 4.45,4.8,6.75,7.4, 7.8,9.25,10.05,8.2, 5.25,3.8,0.3,1.45, 3.4,6.05,7.35,4.05, 3.3,4.9,4.4,4.3, 4.7,3.1,4.1,2.15, 2.65,3.6,6.75,3.2, 1.65,2.45,3.4,3.3, 4.2,4.6,5.85,5.25, 4.95];
const windMean = [5.8,5.6,3.8, 3.1,3.7,4.4,3.3, 3.2,3.0,2.2,1.6, 1.5,1.5,2.4,3.2, 4.4,5.6,6.3,6.2, 5.9,5.2,4.9,4.1, 3.7,4.0,4.4,4.6, 4.6,5.1,5.6,5.3, 5.3,5.3,6.0,5.6, 6.0,6.6,6.4,5.5, 5.5,5.7,6.3,5.5, 5.7,5.8,6.4,5.9, 5.5,5.1,5.6,5.3, 5.1,5.1,5.8,5.2, 5.0,5.3,5.4,5.2, 4.9];
const windLeden = [
 [5.9,5.7,3.9, 3.2,3.8,4.6,3.4, 3.3,3.1,2.3,1.7, 1.6,1.6,2.5,3.4, 4.6,5.8,6.6,6.8, 6.4,5.8,5.4,4.6, 4.2,5.0,6.2,7.4, 8.6,9.6,10.4,9.2, 8.8,10.6,12.8,13.5, 12.6,11.2,9.8,8.6, 9.4,10.2,8.8,8.2, 9.6,10.8,9.4,8.6, 9.0,10.2,11.0,9.6, 8.8,9.6,10.4,9.2, 8.4,9.2,10.6,11.4, 12.4],
 [5.6,5.5,3.6, 2.9,3.5,4.2,3.1, 3.0,2.8,2.0,1.4, 1.3,1.4,2.2,2.9, 4.0,5.2,5.8,5.6, 5.2,4.6,3.8,3.0, 2.6,2.2,1.8,2.4, 3.0,2.6,2.0,1.6, 2.2,1.8,1.4,2.0, 2.8,3.4,2.6,2.0, 1.6,2.4,3.0,2.4, 1.8,1.4,2.2,2.8, 2.4,1.8,1.6,2.2, 2.8,2.0,1.6,2.4, 1.8,1.4,0.8,1.2, 0.6],
 [5.8,5.6,3.8, 3.1,3.6,4.4,3.3, 3.2,3.0,2.2,1.6, 1.5,1.5,2.4,3.2, 4.4,5.6,6.2,6.0, 5.6,5.0,4.4,3.8, 3.4,3.8,4.6,5.4, 6.2,7.0,7.8,7.2, 6.6,7.4,8.4,9.6, 10.4,9.2,8.0,7.4, 6.8,7.6,8.4,7.6, 7.0,7.8,8.6,8.0, 7.4,6.8,7.6,8.2, 7.6,6.8,6.2,7.0, 7.6,8.2,9.0,9.8, 10.2],
 [5.7,5.6,3.8, 3.0,3.6,4.3,3.2, 3.1,2.9,2.1,1.5, 1.4,1.5,2.3,3.1, 4.3,5.5,6.2,6.2, 5.8,5.2,4.8,4.0, 3.4,3.0,2.6,3.2, 3.8,4.4,3.6,2.8, 3.4,4.2,5.0,4.2, 3.6,2.8,3.4,4.0, 3.2,2.6,3.8,4.4, 3.6,3.0,2.4,3.2, 3.8,3.2,2.6,3.4, 4.0,3.4,2.8,3.6, 4.2,3.6,3.0,2.6, 2.4],
 [5.9,5.7,3.8, 3.2,3.7,4.5,3.3, 3.2,3.0,2.3,1.7, 1.6,1.7,2.6,3.4, 4.6,6.0,7.0,7.6, 7.4,7.0,6.6,7.2, 8.0,9.4,9.6,8.4, 7.2,6.4,7.0,8.2, 9.0,8.2,7.4,6.8, 7.6,8.4,9.2,8.6, 7.8,7.0,6.4,5.8, 5.2,6.0,6.8,6.2, 5.6,5.0,5.8,6.4, 5.8,5.2,4.8,5.4, 6.0,5.4,4.8,5.2, 5.6],
 [5.8,5.5,3.7, 3.0,3.6,4.4,3.3, 3.2,3.0,2.2,1.6, 1.5,1.4,2.3,3.2, 4.4,5.6,6.4,6.4, 6.0,5.2,4.4,3.6, 3.0,3.6,4.4,5.0, 5.6,6.2,5.4,4.8, 5.4,6.0,6.8,7.4, 8.2,9.0,10.6,9.4, 8.6,9.8,10.8,11.6, 12.2,13.6,12.8,11.2, 10.2,9.4,10.6,11.4, 10.2,9.2,8.4,9.6, 10.4,11.2,10.0,9.4, 8.6],
 [5.6,5.5,3.7, 3.0,3.7,4.3,3.2, 3.1,2.9,2.1,1.5, 1.4,1.4,2.2,3.0, 4.2,5.4,6.0,5.8, 5.4,4.8,4.2,3.4, 2.8,2.4,3.2,4.0, 4.6,4.0,3.4,4.2, 5.0,4.4,3.6,3.0, 2.4,2.0,2.8,3.6, 4.2,5.0,4.4,3.6, 3.0,2.6,3.4,4.2, 5.0,4.4,3.8,4.6, 5.4,4.8,4.0,3.4, 2.8,2.2,2.8,3.4, 3.8],
 [5.9,5.8,3.9, 3.2,3.8,4.5,3.4, 3.3,3.1,2.3,1.7, 1.6,1.6,2.5,3.3, 4.5,5.7,6.4,6.6, 6.4,6.2,5.8,5.4, 5.0,5.6,6.8,8.0, 9.2,10.0,9.4,8.2, 7.4,6.8,6.0,5.4, 6.0,6.8,7.6,7.0, 6.4,5.8,6.6,7.2, 6.6,6.0,5.4,6.2, 7.0,7.6,6.8,6.2, 5.6,6.4,7.2,6.6, 6.0,5.4,6.2,7.0, 6.6],
 [5.7,5.5,3.7, 3.0,3.5,4.3,3.2, 3.0,2.9,2.1,1.5, 1.4,1.5,2.3,3.1, 4.2,5.3,5.8,5.6, 5.0,4.2,3.6,3.0, 2.6,3.2,4.0,4.6, 5.2,4.6,4.0,4.8, 5.6,6.4,5.8,5.0, 4.4,5.2,6.0,5.4, 4.8,4.2,5.0,5.8, 5.2,4.6,4.0,4.8, 5.6,5.0,4.4,5.2, 6.0,5.4,4.8,5.6, 6.2,5.6,5.0,5.8, 6.2],
 [5.8,5.6,3.8, 3.1,3.7,4.4,3.3, 3.2,3.0,2.2,1.6, 1.5,1.6,2.4,3.2, 4.4,5.6,6.6,7.0, 6.6,6.0,5.4,5.0, 4.6,4.2,5.0,6.0, 7.2,8.4,9.0,8.2, 7.0,6.2,5.4,6.4, 7.4,8.2,7.4,6.6, 6.0,6.8,7.8,8.8, 9.8,9.2,8.4,7.8, 8.8,9.6,8.8,8.0, 7.4,8.2,9.0,8.4, 7.8,7.0,6.4,7.2, 7.8],
 [5.7,5.6,3.8, 3.1,3.6,4.4,3.3, 3.1,2.9,2.2,1.6, 1.5,1.5,2.4,3.2, 4.3,5.4,5.9,5.8, 5.6,5.4,5.0,4.4, 4.0,3.6,3.0,2.4, 1.8,2.6,3.4,4.2, 3.6,3.0,2.4,2.0, 1.6,2.4,3.2,2.6, 2.0,1.6,2.2,3.0, 3.6,4.4,3.8,3.2, 2.6,2.0,1.6,2.2, 2.8,3.4,2.8,2.2, 1.8,2.4,3.0,2.6, 2.0],
 [5.8,5.7,3.8, 3.1,3.7,4.4,3.3, 3.2,3.0,2.2,1.6, 1.5,1.5,2.4,3.3, 4.5,5.8,6.6,6.6, 6.2,5.6,5.2,4.6, 4.0,4.8,5.6,6.4, 7.0,7.8,8.6,9.6, 10.4,11.2,10.0,9.0, 8.2,7.4,6.6,7.2, 8.0,8.6,9.4,10.2, 10.8,10.0,9.2,8.4, 7.8,7.0,6.2,6.8, 7.4,8.0,8.8,9.6, 10.2,9.4,8.6,9.2, 9.6],
 [5.6,5.4,3.6, 2.9,3.5,4.2,3.1, 3.0,2.8,2.0,1.4, 1.3,1.4,2.2,3.0, 4.2,5.4,6.0,5.8, 5.4,4.6,4.0,3.2, 2.4,1.8,2.4,3.0, 3.6,3.2,2.6,2.0, 1.4,2.2,3.0,3.6, 3.0,2.4,1.8,2.6, 3.4,2.8,2.2,1.6, 2.2,2.8,3.4,2.8, 2.2,1.6,2.4,3.0, 3.6,3.0,2.4,1.8, 1.2,0.8,1.6,2.2, 1.8],
 [5.7,5.6,3.8, 3.1,3.6,4.4,3.3, 3.1,3.0,2.2,1.6, 1.5,1.5,2.4,3.2, 4.4,5.6,6.2,6.4, 6.2,5.6,5.2,4.6, 4.2,4.6,5.2,5.8, 6.2,6.8,7.4,6.8, 6.2,5.8,6.6,7.2, 6.6,6.0,5.6,6.2, 6.8,6.2,5.6,5.0, 5.6,6.2,6.8,7.4, 6.8,6.2,5.6,5.0, 4.6,5.2,5.8,5.2, 4.8,4.4,5.0,5.6, 5.2],
 [5.8,5.6,3.8, 3.1,3.7,4.4,3.3, 3.2,3.0,2.2,1.6, 1.5,1.5,2.4,3.2, 4.4,5.6,6.3,6.2, 5.8,5.4,4.8,4.2, 3.8,4.4,5.0,5.6, 6.0,6.6,7.2,6.6, 6.0,6.6,7.4,6.8, 6.2,7.0,7.8,7.2, 6.6,7.4,8.0,7.4, 6.8,7.4,8.2,7.6, 7.0,6.4,7.0,7.6, 7.0,6.4,5.8,6.4, 7.0,6.4,5.8,6.4, 6.8],
 [5.7,5.5,3.7, 3.0,3.6,4.3,3.2, 3.1,2.9,2.1,1.5, 1.4,1.5,2.3,3.1, 4.3,5.4,6.0,5.8, 5.4,4.8,4.2,3.6, 3.2,3.6,4.2,4.8, 5.2,4.8,4.2,3.6, 4.2,4.8,5.4,4.8, 4.2,3.6,4.2,4.8, 5.4,4.8,4.2,3.6, 4.2,4.8,5.4,4.8, 4.2,3.8,4.4,5.0, 4.4,3.8,3.4,4.0, 4.6,4.2,3.6,4.2, 4.6],
 [5.9,5.7,3.9, 3.2,3.8,4.5,3.4, 3.3,3.1,2.3,1.7, 1.6,1.6,2.5,3.3, 4.5,5.7,6.4,6.4, 6.0,5.6,5.0,4.6, 4.4,5.2,6.0,6.8, 7.6,8.2,7.6,7.0, 7.6,8.4,9.2,8.6, 8.0,8.8,9.6,9.0, 8.4,7.8,8.6,9.4, 8.8,8.2,7.6,8.4, 9.2,8.6,8.0,8.8, 9.4,8.8,8.2,7.6, 8.2,8.8,8.2,7.6, 7.2],
 [5.7,5.6,3.8, 3.1,3.6,4.4,3.3, 3.1,3.0,2.2,1.6, 1.5,1.5,2.4,3.2, 4.3,5.5,6.1,6.0, 5.6,5.0,4.4,3.8, 3.0,2.6,3.4,4.2, 4.8,5.4,4.8,4.2, 3.6,3.0,3.8,4.6, 5.2,4.6,4.0,3.4, 4.0,4.6,5.2,4.6, 4.0,3.4,4.0,4.6, 5.2,5.8,5.2,4.6, 4.0,4.6,5.2,5.8, 5.2,4.6,4.0,4.6, 5.2],
 [5.8,5.6,3.8, 3.1,3.7,4.4,3.3, 3.2,3.0,2.2,1.6, 1.5,1.5,2.4,3.2, 4.4,5.6,6.4,6.6, 6.4,6.2,6.0,5.6, 5.8,6.6,7.4,8.2, 9.0,9.8,10.6,11.4, 12.2,11.4,10.6,9.8, 9.0,8.2,8.8,9.6, 10.4,11.2,10.4,9.6, 8.8,9.6,10.4,11.2, 10.4,9.6,8.8,9.6, 10.4,9.6,8.8,8.0, 8.8,9.6,10.4,9.6, 8.8],
 [5.6,5.5,3.7, 3.0,3.6,4.3,3.2, 3.1,2.9,2.1,1.5, 1.4,1.4,2.3,3.0, 4.2,5.3,5.9,5.7, 5.2,4.6,3.8,3.2, 2.8,3.4,2.8,2.2, 2.8,3.4,4.0,3.4, 2.8,2.2,2.8,3.4, 4.0,4.6,4.0,3.4, 2.8,3.4,4.0,4.6, 5.2,4.6,4.0,3.4, 2.8,3.4,4.0,3.4, 2.8,2.2,2.8,3.4, 4.0,3.4,2.8,2.2, 2.8]
];

// ---------- 10m windstoten ----------
const gustOper = [12.3,11.9,10.9, 7.2,6.8,10.2,8.4, 7.7,6.6,6.65,5.4, 2.65,2.65,4.0,4.0, 7.8,11.3,13.9,13.5, 13.6,13.6,12.1,9.0, 7.7,8.7,11.7,14.0, 14.15,14.15,16.8,16.75, 15.2,14.0,15.2,16.1, 18.8,18.8,18.0,17.6, 18.9];
const gustCtrl = [9.9,11.3,10.05, 7.0,6.8,9.5,8.6, 6.6,5.95,5.8,3.1, 2.1,1.85,4.3,5.0, 7.8,10.9,13.1,13.6, 12.9,12.5,10.9,9.5, 8.9,8.7,11.9,14.35, 14.3,17.15,18.7,18.5, 15.2,9.8,7.4,6.1, 5.95,12.3,13.5,13.45, 7.5,9.5,9.65,8.7, 10.3,8.6,7.7,7.7, 5.4,6.8,12.3,12.9, 6.1,4.9,7.0,6.65, 7.5,8.4,10.6,10.75, 9.5];
const gustMean = [10.5,11.2,10.2, 7.1,7.0,9.4,8.6, 7.2,6.4,6.0,4.8, 3.0,3.2,5.0,6.0, 8.0,10.8,12.3,12.4, 11.8,11.0,10.0,9.2, 8.2,8.4,9.3,10.0, 10.4,10.6,11.3,11.5, 11.2,10.9,12.2,12.5, 12.1,13.0,14.3,14.0, 11.8,11.9,12.6,13.0, 11.9,12.0,12.8,13.3, 12.0,11.0,11.4,12.0, 11.1,10.6,11.2,11.7, 11.0,10.5,11.4,11.3, 10.9];
const gustLeden = [
 [10.6,11.4,10.4, 7.3,7.1,9.6,8.7, 7.4,6.6,6.2,5.0, 3.2,3.4,5.2,6.2, 8.2,11.0,12.8,13.4, 12.8,12.0,11.2,10.0, 9.4,10.6,12.6,15.0, 17.2,19.6,21.4,20.2, 22.0,24.6,27.6,29.3, 26.8,24.2,22.0,19.8, 18.6,20.4,22.8,21.0, 19.2,21.6,24.0,22.2, 20.4,22.6,21.0,19.6, 20.8,22.4,21.2,19.4, 20.6,22.2,23.6,24.0, 23.2],
 [10.2,11.0,9.9, 6.9,6.8,9.1,8.3, 7.0,6.2,5.8,4.6, 2.8,3.0,4.8,5.8, 7.8,10.6,11.8,11.6, 10.8,9.6,8.2,6.8, 5.8,5.0,4.4,5.6, 6.6,5.8,4.6,3.8, 4.8,4.0,3.2,4.4, 5.6,6.8,5.4,4.2, 3.6,4.8,6.0,5.0, 4.0,3.4,4.6,5.8, 5.0,4.2,3.6,4.8, 5.8,4.6,3.8,3.2, 3.6,4.4,3.4,2.8, 2.6],
 [10.5,11.3,10.3, 7.2,7.0,9.4,8.6, 7.3,6.5,6.1,4.9, 3.1,3.3,5.1,6.1, 8.1,10.9,12.6,13.0, 12.4,11.4,10.2,9.0, 8.2,9.0,10.4,12.0, 13.6,15.0,16.4,15.2, 14.0,15.6,17.6,19.8, 21.2,19.0,17.2,16.0, 14.8,16.4,18.0,16.6, 15.2,16.8,18.4,17.0, 15.6,14.4,16.0,17.2, 16.0,14.6,13.4,14.8, 16.2,17.4,18.6,20.0, 21.0],
 [10.4,11.2,10.2, 7.1,7.0,9.3,8.5, 7.2,6.4,6.0,4.8, 3.0,3.2,5.0,6.0, 8.0,10.8,12.3,12.6, 12.0,11.0,10.0,8.6, 7.4,6.4,5.6,6.6, 7.8,8.8,7.6,6.2, 7.2,8.6,10.0,8.8, 7.6,6.2,7.4,8.6, 7.0,5.8,7.8,9.0, 7.6,6.4,5.2,6.8, 7.8,6.6,5.4,7.0, 8.2,7.0,5.8,7.4, 8.4,7.2,6.2,5.4, 5.0],
 [10.7,11.5,10.4, 7.4,7.2,9.7,8.8, 7.5,6.7,6.3,5.1, 3.3,3.6,5.4,6.4, 8.4,11.2,13.2,14.4, 14.8,14.0,13.2,14.4, 15.6,17.8,18.4,16.4, 14.2,12.8,13.8,16.0, 17.4,16.0,14.6,13.4, 14.8,16.4,18.2,17.0, 15.4,14.0,12.8,11.6, 10.6,12.0,13.6,12.4, 11.2,10.2,11.6,12.8, 11.6,10.4,9.6,10.8, 12.0,10.8,9.6,10.4, 11.2],
 [10.5,11.1,10.1, 7.0,7.0,9.4,8.6, 7.3,6.5,6.1,4.9, 3.1,3.2,5.0,6.1, 8.1,11.0,12.8,12.8, 12.0,10.4,8.8,7.2, 6.2,7.2,8.8,10.0, 11.2,12.4,11.0,9.6, 10.8,12.0,13.6,14.8, 16.4,18.0,21.0,18.8, 17.2,19.6,21.6,23.2, 24.4,27.2,25.6,22.4, 20.4,18.8,21.2,22.8, 20.4,18.4,16.8,19.2, 20.8,22.4,20.0,18.8, 17.2],
 [10.3,11.0,10.0, 7.0,6.9,9.2,8.4, 7.1,6.3,5.9,4.7, 2.9,3.1,4.9,5.9, 7.9,10.6,12.0,11.6, 10.8,9.6,8.4,6.8, 5.6,4.8,6.4,8.0, 9.2,8.0,6.8,8.4, 10.0,8.8,7.2,6.0, 4.8,4.0,5.6,7.2, 8.4,10.0,8.8,7.2, 6.0,5.2,6.8,8.4, 10.0,8.8,7.6,9.2, 10.8,9.6,8.0,6.8, 5.6,4.4,5.6,6.8, 7.6],
 [10.6,11.4,10.3, 7.3,7.1,9.6,8.7, 7.4,6.6,6.2,5.0, 3.2,3.4,5.2,6.3, 8.3,11.1,12.8,13.2, 12.8,12.4,11.6,10.8, 10.0,11.2,13.6,16.0, 18.4,20.0,18.8,16.4, 14.8,13.6,12.0,10.8, 12.0,13.6,15.2,14.0, 12.8,11.6,13.2,14.4, 13.2,12.0,10.8,12.4, 14.0,15.2,13.6,12.4, 11.2,12.8,14.4,13.2, 12.0,10.8,12.4,14.0, 13.2],
 [10.4,11.1,10.1, 7.1,6.9,9.3,8.5, 7.2,6.4,6.0,4.8, 3.0,3.2,5.0,6.0, 7.9,10.6,11.6,11.2, 10.0,8.4,7.2,6.0, 5.2,6.4,7.8,9.0, 10.2,9.0,8.0,9.6, 11.2,12.8,11.6,10.0, 8.8,10.4,12.0,10.8, 9.6,8.4,10.0,11.6, 10.4,9.2,8.0,9.6, 11.2,10.0,8.8,10.4, 12.0,10.8,9.6,11.2, 12.4,11.2,10.0,11.6, 12.4],
 [10.5,11.3,10.2, 7.2,7.1,9.5,8.6, 7.3,6.5,6.1,4.9, 3.1,3.3,5.1,6.2, 8.2,11.0,13.0,13.8, 13.4,12.6,11.6,11.0, 10.2,9.4,10.8,12.6, 14.6,16.8,18.0,16.6, 14.4,12.6,11.0,12.8, 14.8,16.6,15.0,13.6, 12.6,14.2,16.4,18.8, 20.8,19.2,17.6,16.0, 17.6,19.2,17.6,16.0, 14.8,16.4,18.0,16.8, 15.6,14.2,12.8,14.4, 15.6],
 [10.4,11.2,10.2, 7.1,7.0,9.4,8.5, 7.2,6.4,6.0,4.8, 3.0,3.2,5.0,6.1, 8.0,10.8,12.0,11.8, 11.4,10.8,10.0,9.2, 8.4,7.6,6.4,5.0, 4.0,5.2,6.8,8.0, 7.0,5.8,4.6,4.0, 3.4,4.6,6.0,5.0, 4.2,3.6,4.8,6.2, 7.4,8.6,7.6,6.4, 5.4,4.6,3.8,4.8, 5.8,6.8,5.8,4.8, 4.0,4.8,5.8,5.0, 4.4],
 [10.6,11.4,10.3, 7.2,7.1,9.5,8.6, 7.3,6.5,6.1,4.9, 3.1,3.3,5.2,6.2, 8.2,11.2,13.2,13.6, 13.0,12.0,11.0,10.2, 9.4,11.0,12.8,14.8, 16.4,18.2,20.0,22.0, 24.2,26.4,23.6,21.0, 19.2,17.4,15.6,17.0, 18.6,20.2,22.0,20.6, 19.0,17.6,16.0,17.6, 19.2,21.0,23.4,21.6, 19.8,18.2,20.0,21.6, 22.6,21.0,19.4,20.8, 21.6],
 [10.3,11.0,10.0, 6.9,6.8,9.2,8.4, 7.1,6.3,5.9,4.7, 2.9,3.1,4.9,5.9, 7.8,10.4,11.4,11.0, 10.2,9.2,8.4,7.6, 6.8,5.8,4.8,4.2, 3.4,4.6,5.8,4.8, 3.8,3.0,4.2,5.4, 4.6,3.6,2.6,3.8, 5.0,6.2,5.2,4.4, 5.6,6.6,5.6,4.6, 3.8,4.8,5.8,5.0, 4.2,3.6,4.6,5.6, 4.8,4.0,3.4,4.2, 5.0],
 [10.5,11.2,10.2, 7.2,7.0,9.4,8.6, 7.3,6.5,6.1,4.9, 3.1,3.3,5.1,6.1, 8.1,10.9,12.4,12.6, 12.2,11.4,10.6,9.8, 9.2,10.0,11.2,12.4, 13.2,14.0,13.0,12.0, 12.8,13.6,14.8,13.6, 12.6,11.8,12.8,13.8, 12.8,12.0,11.2,12.2, 13.4,14.6,13.4,12.4, 11.6,12.6,13.8,12.8, 11.8,11.0,12.0,13.0, 12.0,11.2,10.4,11.4, 12.2],
 [10.5,11.2,10.2, 7.1,7.0,9.4,8.6, 7.2,6.4,6.0,4.8, 3.0,3.2,5.0,6.0, 8.0,10.8,12.2,12.2, 11.6,10.8,10.0,9.4, 9.0,10.2,11.4,12.6, 13.4,14.6,15.8,14.6, 13.4,14.6,15.8,16.8, 17.8,16.6,15.4,16.6, 17.8,16.6,15.4,14.2, 15.4,16.6,17.8,16.6, 15.4,14.2,15.4,16.6, 15.4,14.2,13.0,14.2, 15.4,14.2,13.0,14.2, 15.0],
 [10.4,11.1,10.1, 7.0,6.9,9.3,8.5, 7.1,6.3,5.9,4.7, 2.9,3.1,4.9,5.9, 7.9,10.6,11.8,11.4, 10.6,9.6,8.6,7.8, 7.0,7.8,8.6,9.4, 8.6,7.8,7.0,7.8, 8.6,9.4,10.2,9.4, 8.6,7.8,8.6,9.4, 10.2,9.4,8.6,7.8, 8.6,9.4,10.2,9.4, 8.6,7.8,8.6,9.4, 8.6,7.8,7.0,7.8, 8.6,7.8,7.0,7.8, 8.4],
 [10.6,11.3,10.3, 7.2,7.1,9.5,8.6, 7.3,6.5,6.1,4.9, 3.1,3.3,5.1,6.2, 8.2,11.0,12.8,13.0, 12.6,12.0,11.4,11.0, 11.6,12.8,14.0,15.4, 16.6,17.8,16.6,15.4, 16.6,17.8,19.2,20.4, 21.6,20.4,19.2,18.0, 19.2,20.4,21.6,20.4, 19.2,18.0,19.2,20.4, 21.6,20.4,19.2,18.0, 19.2,18.0,16.8,18.0, 19.2,18.0,16.8,15.6, 16.8],
 [10.4,11.2,10.2, 7.1,7.0,9.4,8.5, 7.2,6.4,6.0,4.8, 3.0,3.2,5.0,6.0, 8.0,10.8,12.0,11.8, 11.0,10.0,9.0,8.0, 7.4,6.8,7.6,8.4, 9.2,10.0,9.2,8.4, 7.6,8.4,9.2,10.0, 10.8,10.0,9.2,8.4, 9.2,10.0,10.8,10.0, 9.2,8.4,9.2,10.0, 10.8,10.0,9.2,10.0, 10.8,10.0,9.2,8.4, 9.2,10.0,10.8,10.0, 9.6],
 [10.5,11.3,10.2, 7.2,7.0,9.5,8.6, 7.3,6.5,6.1,4.9, 3.1,3.3,5.1,6.1, 8.1,10.9,12.4,12.8, 12.6,12.2,11.8,12.4, 13.2,14.2,15.2,14.2, 13.2,12.2,13.2,14.2, 15.2,16.2,17.2,16.2, 15.2,14.2,13.2,12.2, 13.2,14.2,13.2,12.2, 11.2,12.2,13.2,14.2, 13.2,12.2,11.2,12.2, 13.2,12.2,11.2,10.2, 11.2,12.2,11.2,10.2, 11.0],
 [10.3,11.0,10.0, 7.0,6.9,9.2,8.4, 7.1,6.3,5.9,4.7, 2.9,3.1,4.9,5.9, 7.8,10.5,11.6,11.2, 10.4,9.4,8.4,7.4, 6.6,7.4,6.6,5.8, 6.6,7.4,8.2,7.4, 6.6,5.8,6.6,7.4, 8.2,7.4,6.6,5.8, 6.6,7.4,8.2,7.4, 6.6,5.8,6.6,7.4, 8.2,7.4,6.6,5.8, 6.6,5.8,5.0,5.8, 6.6,5.8,5.0,4.2, 5.0]
];

// ---------- Bedekkingsgraad ----------
const cloudOper = [100,98.7,95, 89,100,100,100, 65,95,87.5,83, 99,100,97,94, 100,100,100,100, 100,100,100,100, 100,100,100,100, 100,100,100,100, 100,100,86.6,100, 27,99,67,100, 90.2];
const cloudCtrl = [100,99,100, 42.2,100,100,100, 100,100,87,94.5, 96.5,85,98.5,100, 100,100,100,100, 100,100,100,99.5, 100,100,100,100, 100,100,100,100, 100,100,100,100, 100,68,85,37, 100,99,100,81, 63.2,100,100,79.7, 49.1,43,90,77, 31,79,99,83.3, 79,27,0.3,10.3, 20];
const cloudLow = [97,94.5,77, 42.7,100,99,91, 95,98.5,81,68, 79,96.4,99,100, 100,100,100,100, 100,100,98.1,92.8, 90.6,98.1,97.7,100, 100,100,100,97.9, 100,100,99,88, 82.9,68.8,57.8,69.2, 96,75.6,64,54.9, 64.5,62.3,51.9,65.2, 56.2,62.1,50.4,81.6, 67.5,78.9,83.8,78.1, 83.8,87.8,91.5,72.6, 88.7];
const cloudHigh = [100,100,99, 98,100,100,100, 100,100,100,97.3, 100,100,100,100, 100,100,100,100, 100,100,100,100, 100,100,100,100, 100,100,100,100, 100,100,100,100, 100,100,100,100, 100,100,100,100, 100,100,100,100, 100,100,100,100, 100,100,100,100, 100,100,100,100, 100];
const cloudMed = [99,96.6,93.6, 80.6,100,100,96, 99,100,93,87, 90.5,98.3,100,100, 100,100,100,100, 100,100,100,99.5, 99,100,100,100, 100,100,100,99.5, 100,100,100,99, 98.3,98.7,98.3,99, 99,98.3,97,94.1, 97,99,83.9,86.1, 85.1,97,96.1,98.3, 99,99,99,99, 99,99,99,99, 99];

// ---------- build chart ----------
const FONT = "'Liberation Sans', Arial, Helvetica, sans-serif";
const C_OPER = '#d23a3a', C_CTRL = '#3535c9', C_MEAN = '#7a1010', C_LEDEN = '#3a9a28';
const panels = [
  {title:'Temperatuur 2m', min:-15, max:15, step:5},
  {title:'Dauwpunt 2m', min:-25, max:15, step:5},
  {title:'Neerslag', min:0, max:16, step:2},
  {title:'10m wind', min:0, max:16, step:2},
  {title:'10m windstoten', min:0, max:32, step:2},
  {title:'Bedekkingsgraad', min:0, max:100, step:10}
];
const TOP0 = 20.3, STEP = 300, GH = 260.2, GL = 28.3, GW = 604.7;

const grids = [], xAxes = [], yAxes = [], series = [], legends = [], graphics = [];

panels.forEach((p, k) => {
  const top = TOP0 + STEP * k;
  grids.push({left: GL, top: top, width: GW, height: GH, show: true, borderColor: '#000', borderWidth: 1, backgroundColor: 'transparent', containLabel: false});
  const isCloud = k === 5;
  xAxes.push({
    gridIndex: k, type: 'value', min: isCloud ? 9 : 6, max: isCloud ? 363 : 360, interval: isCloud ? 3 : 6,
    splitLine: {show: false}, axisTick: {show: false},
    axisLine: {show: true, onZero: false, lineStyle: {color: '#000', width: 1}},
    axisLabel: {fontSize: 10.5, color: '#000', fontFamily: FONT, margin: 6,
      formatter: v => { const r = Math.round(v); return ((r - 12) % 24 === 0 && r >= 12) ? (dayLabels[(r - 12) / 24] || '') : ''; }}
  });
  yAxes.push({
    gridIndex: k, type: 'value', min: p.min, max: p.max, interval: p.step,
    axisLine: {show: true, onZero: false, lineStyle: {color: '#000', width: 1}},
    axisTick: {show: true, length: 4, lineStyle: {color: '#000'}},
    axisLabel: {fontSize: 11.5, color: '#000', fontFamily: FONT, margin: 6},
    splitLine: {show: true, lineStyle: {color: '#dcdcdc', width: 1}}
  });
  // vertical time grid (6-hourly light, daily dark) and 12-hourly ticks, placed through the x scale
  const lo = isCloud ? 9 : 6, hi = isCloud ? 363 : 360;
  const vdata = [];
  for (let h = 6; h <= 360; h += 6) { if (h > lo && h < hi) vdata.push([h, h % 24 === 0 ? 1 : 0, p.min]); }
  for (let h = 12; h <= 360; h += 12) { if (h > lo && h < hi + 1) vdata.push([h, 2, p.min]); }
  series.push({
    type: 'custom', xAxisIndex: k, yAxisIndex: k, silent: true, z: 1, clip: false, animation: false,
    encode: {x: 0, y: 2}, data: vdata,
    renderItem: (params, api) => {
      const cs = params.coordSys;
      const x = Math.round(api.coord([api.value(0), api.value(2)])[0]) + 0.5;
      const kind = api.value(1);
      const yb = Math.round(cs.y + cs.height) + 0.5;
      if (kind === 2) return {type: 'line', shape: {x1: x, y1: yb, x2: x, y2: yb + 4}, style: {stroke: '#000', lineWidth: 1}};
      return {type: 'line', shape: {x1: x, y1: cs.y, x2: x, y2: cs.y + cs.height}, style: {stroke: kind === 1 ? '#5c5c5c' : '#dcdcdc', lineWidth: 1}};
    }
  });
  graphics.push({type: 'text', x: 415, y: top - 7.3, silent: true,
    style: {text: p.title, font: 'bold 13.5px ' + FONT, fill: '#000', align: 'center', verticalAlign: 'middle', textAlign: 'center', textVerticalAlign: 'middle'}});
  graphics.push({type: 'text', x: 633, y: top - 15.9, silent: true,
    style: {text: 'Infoplaza.nl - regio midden', font: '9.5px ' + FONT, fill: '#9e9e9e', align: 'right', verticalAlign: 'middle', textAlign: 'right', textVerticalAlign: 'middle'}});
  graphics.push({type: 'text', x: 633, y: top - 6.3, silent: true,
    style: {text: 'Gemaakt: zo 16 dec 10:00', font: '9.5px ' + FONT, fill: '#9e9e9e', align: 'right', verticalAlign: 'middle', textAlign: 'right', textVerticalAlign: 'middle'}});
});

const pairs = (hrs, vals) => vals.map((v, i) => [hrs[i], v]);
function line(k, name, data, ls, z) {
  return {type: 'line', name, xAxisIndex: k, yAxisIndex: k, data, symbol: 'none', showSymbol: false,
    lineStyle: ls, itemStyle: {color: ls.color}, z, silent: true, animation: false, emphasis: {disabled: true}};
}

const ICON_BAR = 'path://M0 0H16V4H0Z';
const ICON_THIN = 'path://M0 0H16V1H0Z';
const ICON_DOTS = 'path://M0 0H3V3H0Z M4 0H7V3H4Z M8 0H11V3H8Z M12 0H15V3H12Z';

const panelData = [
  {oper: tempOper, ctrl: tempCtrl, mean: tempMean, leden: tempLeden},
  {oper: dewOper, ctrl: dewCtrl, mean: dewMean, leden: dewLeden},
  {oper: precOper, ctrl: precCtrl, mean: precMean, leden: precLeden},
  {oper: windOper, ctrl: windCtrl, mean: windMean, leden: windLeden},
  {oper: gustOper, ctrl: gustCtrl, mean: gustMean, leden: gustLeden}
];
panelData.forEach((d, k) => {
  d.leden.forEach(m => series.push(line(k, 'Leden', pairs(hours, m), {color: C_LEDEN, width: 1, opacity: 0.5}, 2)));
  series.push(line(k, 'Gemiddelde', pairs(hours, d.mean), {color: C_MEAN, width: 3, type: [3, 2]}, 3));
  series.push(line(k, 'Controle', pairs(hours, d.ctrl), {color: C_CTRL, width: 3}, 4));
  series.push(line(k, 'Oper.', pairs(hours, d.oper), {color: C_OPER, width: 3}, 5));
  legends.push({
    top: 8.5 + STEP * k, left: 28, padding: 0, itemGap: 24, itemWidth: 16, itemHeight: 8, selectedMode: false,
    symbolKeepAspect: true,
    textStyle: {fontSize: 10.5, color: '#000', fontFamily: FONT},
    data: [
      {name: 'Oper.', icon: ICON_BAR, itemStyle: {color: C_OPER, borderWidth: 0}},
      {name: 'Controle', icon: ICON_BAR, itemStyle: {color: C_CTRL, borderWidth: 0}},
      {name: 'Leden', icon: ICON_THIN, itemStyle: {color: '#a6d499', borderWidth: 0}},
      {name: 'Gemiddelde', icon: ICON_DOTS, itemStyle: {color: C_MEAN, borderWidth: 0}}
    ]
  });
});

// reference lines
series.push({type: 'line', xAxisIndex: 0, yAxisIndex: 0, data: [], silent: true, z: 3,
  markLine: {silent: true, symbol: ['none', 'none'], label: {show: false}, animation: false, z: 3,
    data: [{yAxis: 0, lineStyle: {color: '#000', width: 2, type: 'solid'}}]}});
series.push({type: 'line', xAxisIndex: 4, yAxisIndex: 4, data: [], silent: true, z: 6,
  markLine: {silent: true, symbol: ['none', 'none'], label: {show: false}, animation: false, z: 6,
    data: [{yAxis: 27.8, lineStyle: {color: '#ff4dff', width: 2, type: [5, 3]}},
           {yAxis: 20.8, lineStyle: {color: '#1f5050', width: 2, type: [2, 3]}}]}});

// cloud cover panel
series.push({
  type: 'custom', name: '50%', xAxisIndex: 5, yAxisIndex: 5, z: 2, clip: true, silent: true, animation: false,
  itemStyle: {color: '#ffffb3'},
  encode: {x: 0, y: [1, 2]}, data: cloudHours.map((h, i) => [h, cloudLow[i], cloudHigh[i]]),
  renderItem: (params, api) => {
    const lo = api.value(1), hi = api.value(2);
    if (!(lo < hi)) return null;
    const a = api.coord([api.value(0), hi]), b = api.coord([api.value(0), lo]);
    const x = Math.round(a[0] - 4) + 0.5, y = Math.round(a[1]) + 0.5;
    return {type: 'rect', shape: {x: x, y: y, width: 8, height: Math.round(b[1]) - Math.round(a[1])},
      style: {fill: '#ffffb3', stroke: '#c2c2c2', lineWidth: 1}};
  }
});
series.push({
  type: 'custom', name: 'median', xAxisIndex: 5, yAxisIndex: 5, z: 3, clip: true, silent: true, animation: false,
  itemStyle: {color: '#000'},
  encode: {x: 0, y: 1}, data: cloudHours.map((h, i) => [h, cloudMed[i], cloudLow[i], cloudHigh[i]]),
  renderItem: (params, api) => {
    if (!(api.value(2) < api.value(3))) return null;
    const a = api.coord([api.value(0), api.value(1)]);
    const y = Math.round(a[1]) + 0.5;
    return {type: 'line', shape: {x1: a[0] - 4.5, y1: y, x2: a[0] + 4.5, y2: y}, style: {stroke: '#2a2a10', lineWidth: 1}};
  }
});
const glow = {shadowColor: 'rgba(90,90,90,0.45)', shadowBlur: 3};
series.push(line(5, 'control', pairs(cloudHours, cloudCtrl), Object.assign({color: C_CTRL, width: 2.5}, glow), 4));
series.push(line(5, 'oper', pairs(cloudHours, cloudOper), Object.assign({color: C_OPER, width: 2.5}, glow), 5));
legends.push({
  top: 8.5 + STEP * 5, left: 28, padding: 0, itemGap: 24, itemWidth: 7, itemHeight: 7, selectedMode: false,
  textStyle: {fontSize: 10.5, color: '#000', fontFamily: FONT},
  data: [
    {name: 'oper', icon: 'rect', itemStyle: {color: C_OPER, borderColor: '#000', borderWidth: 1}},
    {name: 'control', icon: 'rect', itemStyle: {color: C_CTRL, borderColor: '#000', borderWidth: 1}},
    {name: '50%', icon: 'rect', itemStyle: {color: '#ffffb3', borderColor: '#000', borderWidth: 1}},
    {name: 'median', icon: 'rect', itemStyle: {color: '#000', borderColor: '#000', borderWidth: 1}}
  ]
});

const chart = echarts.init(document.getElementById('c'), null, {renderer: 'canvas'});
chart.setOption({
  animation: false,
  backgroundColor: '#fff',
  textStyle: {fontFamily: FONT},
  grid: grids, xAxis: xAxes, yAxis: yAxes, legend: legends, series: series, graphic: graphics
});
</script></body></html>
